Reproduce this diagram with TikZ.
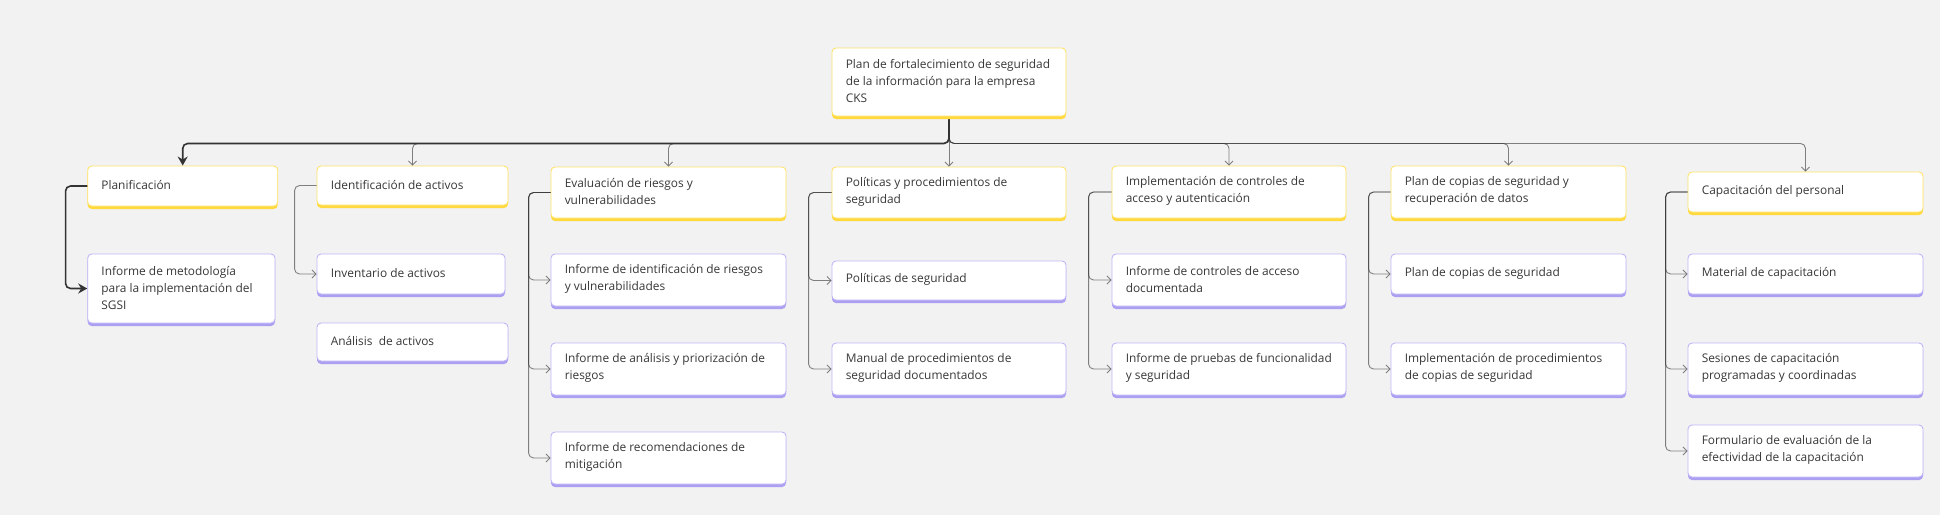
\documentclass[tikz,border=0pt]{standalone}
\usepackage{fontspec}
\setmainfont{Open Sans}
\usetikzlibrary{arrows.meta,shadows}
\definecolor{bg}{HTML}{F2F2F2}
\definecolor{ybord}{HTML}{FFE36E}
\definecolor{yshad}{HTML}{FFD93D}
\definecolor{pbord}{HTML}{BEB6F7}
\definecolor{pshad}{HTML}{AA9FF0}
\definecolor{txtc}{HTML}{383838}
\definecolor{linec}{HTML}{333333}
\tikzset{
 boxbase/.style={rectangle, rounded corners=4pt, fill=white, line width=0.9pt, inner sep=0pt},
 ybox/.style={boxbase, draw=ybord, general shadow={fill=yshad, shadow yshift=-3pt}},
 pbox/.style={boxbase, draw=pbord, general shadow={fill=pshad, shadow yshift=-3pt}},
 txt/.style={anchor=west, align=left, inner sep=0pt, text=txtc, font=\fontsize{11.9}{17}\selectfont},
 mainconn/.style={draw=linec, line width=1.6pt, rounded corners=5pt, -{Stealth[length=9pt,width=10pt]}},
 conn/.style={draw=linec, draw opacity=0.6, line width=0.9pt, rounded corners=5pt, -{Straight Barb[length=4pt,width=8pt]}},
}
\newcommand{\mybox}[7]{%
 \node[#2, minimum width={#4-#3}, minimum height={#6-#5-3}] (#1) at ({(#3+#4)/2},{(#5+#6-3)/2}) {};
 \node[txt] (#1-t) at ([xshift=14pt,yshift=0.8pt]#1.west) {#7};
}
\begin{document}
\begin{tikzpicture}[x=1pt,y=-1pt]
\fill[bg] (0,0) rectangle (1940,515);
\useasboundingbox (0,0) rectangle (1940,515);

\mybox{root}{ybox}{832}{1066}{48}{119}{Plan de fortalecimiento de seguridad\\de la información para la empresa\\CKS}

\mybox{plan}{ybox}{87.7}{277.7}{166}{209}{Planificación}
\mybox{infmet}{pbox}{87.7}{275}{254}{326}{Informe de metodología\\para la implementación del\\SGSI}

\mybox{ident}{ybox}{317}{508}{166}{208}{Identificación de activos}
\mybox{invent}{pbox}{317}{505}{254}{297}{Inventario de activos}
\mybox{analact}{pbox}{317}{508}{323}{364}{Análisis\ \ de activos}

\mybox{eval}{ybox}{551}{786}{167}{221}{Evaluación de riesgos y\\vulnerabilidades}
\mybox{infid}{pbox}{551}{786}{254}{309}{Informe de identificación de riesgos\\y vulnerabilidades}
\mybox{infan}{pbox}{551}{786}{343}{398}{Informe de análisis y priorización de\\riesgos}
\mybox{infrec}{pbox}{551}{786}{432}{487}{Informe de recomendaciones de\\mitigación}

\mybox{pol}{ybox}{832}{1066}{167}{221}{Políticas y procedimientos de\\seguridad}
\mybox{polseg}{pbox}{832}{1066}{261}{303}{Políticas de seguridad}
\mybox{manual}{pbox}{832}{1066}{343}{398}{Manual de procedimientos de\\seguridad documentados}

\mybox{impl}{ybox}{1112}{1346}{166}{221}{Implementación de controles de\\acceso y autenticación}
\mybox{infctl}{pbox}{1112}{1346}{254}{309}{Informe de controles de acceso\\documentada}
\mybox{infpru}{pbox}{1112}{1346}{343}{398}{Informe de pruebas de funcionalidad\\y seguridad}

\mybox{copias}{ybox}{1391}{1626}{166}{221}{Plan de copias de seguridad y\\recuperación de datos}
\mybox{plancop}{pbox}{1391}{1626}{254}{297}{Plan de copias de seguridad}
\mybox{implproc}{pbox}{1391}{1626}{343}{398}{Implementación de procedimientos\\de copias de seguridad}

\mybox{cap}{ybox}{1688}{1923}{172}{215}{Capacitación del personal}
\mybox{mat}{pbox}{1688}{1923}{254}{297}{Material de capacitación}
\mybox{ses}{pbox}{1688}{1923}{343}{398}{Sesiones de capacitación\\programadas y coordinadas}
\mybox{form}{pbox}{1688}{1923}{425}{480}{Formulario de evaluación de la\\efectividad de la capacitación}

% level-1 connectors
\draw[conn] ([yshift=-3pt]root.south) -- ++(0,24) -| (ident.north);
\draw[conn] ([yshift=-3pt]root.south) -- ++(0,24) -| (eval.north);
\draw[conn] ([yshift=-3pt]root.south) -- (pol.north);
\draw[conn] ([yshift=-3pt]root.south) -- ++(0,24) -| (impl.north);
\draw[conn] ([yshift=-3pt]root.south) -- ++(0,24) -| (copias.north);
\draw[conn] ([yshift=-3pt]root.south) -- ++(0,24) -| (cap.north);
\draw[mainconn] ([yshift=-3pt]root.south) -- ++(0,24) -| (plan.north);

% children
\draw[mainconn] (plan.west) -- ++(-21.7,0) |- (infmet.west);
\draw[conn] (ident.west) -- ++(-22,0) |- (invent.west);
\foreach \c in {infid,infan,infrec}{\draw[conn] (eval.west) -- ++(-22,0) |- (\c.west);}
\foreach \c in {polseg,manual}{\draw[conn] (pol.west) -- ++(-23,0) |- (\c.west);}
\foreach \c in {infctl,infpru}{\draw[conn] (impl.west) -- ++(-23,0) |- (\c.west);}
\foreach \c in {plancop,implproc}{\draw[conn] (copias.west) -- ++(-22,0) |- (\c.west);}
\foreach \c in {mat,ses,form}{\draw[conn] (cap.west) -- ++(-22,0) |- (\c.west);}
\end{tikzpicture}
\end{document}
